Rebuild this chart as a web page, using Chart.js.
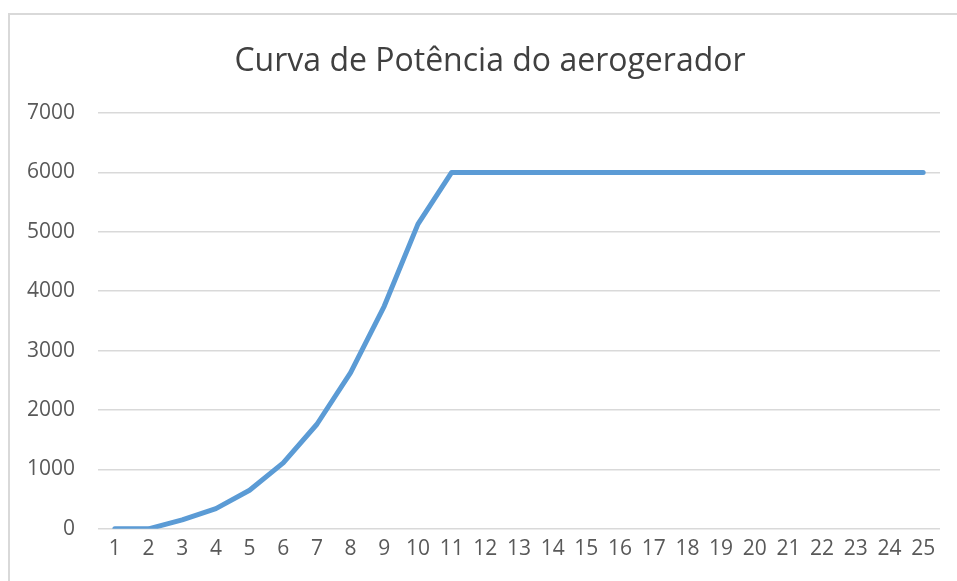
<!DOCTYPE html>
<html>
<head>
<meta charset="utf-8">
<script src="https://cdn.jsdelivr.net/npm/chart.js@4.4.1/dist/chart.umd.min.js"></script>
<style>
  html, body { margin: 0; padding: 0; background: #fff; overflow: hidden; }
  #wrap { position: relative; width: 957px; height: 581px; overflow: hidden; }
  #frame { position: absolute; left: 8px; top: 13px; width: 2000px; height: 2000px; border: 2px solid #d9d9d9; box-sizing: border-box; }
  #chart { position: absolute; left: 0; top: 0; }
</style>
</head>
<body>
<div id="wrap">
  <div id="frame"></div>
  <canvas id="chart" width="957" height="581"></canvas>
</div>
<script>
// Wind speed steps (m/s) and power output
const windSpeeds = ['1', '2', '3', '4', '5', '6', '7', '8', '9', '10', '11', '12', '13',
  '14', '15', '16', '17', '18', '19', '20', '21', '22', '23', '24', '25'];
const power = [0, 0, 150, 340, 650, 1110, 1760, 2630, 3750, 5130, 6000, 6000, 6000,
  6000, 6000, 6000, 6000, 6000, 6000, 6000, 6000, 6000, 6000, 6000, 6000];
const yTicks = [0, 1000, 2000, 3000, 4000, 5000, 6000, 7000];
const chartTitle = 'Curva de Potência do aerogerador';

const fontFamily = '"Open Sans", "Noto Sans", sans-serif';

// title is centred on the outer frame rather than on the plot
const frameTitle = {
  id: 'frameTitle',
  afterDraw(chart) {
    const ctx = chart.ctx;
    ctx.save();
    ctx.font = `32px ${fontFamily}`;
    ctx.fillStyle = '#404040';
    ctx.textAlign = 'center';
    ctx.textBaseline = 'middle';
    ctx.fillText(chartTitle, 490, 62);
    ctx.restore();
  }
};

new Chart(document.getElementById('chart'), {
  type: 'line',
  data: {
    labels: windSpeeds,
    datasets: [{
      label: 'Potência',
      data: power,
      borderColor: '#5B9BD5',
      borderWidth: 5,
      pointRadius: 0,
      tension: 0,
      borderJoinStyle: 'round',
      borderCapStyle: 'round'
    }]
  },
  plugins: [frameTitle],
  options: {
    responsive: false,
    animation: false,
    layout: { padding: { top: 113, right: 17, bottom: 11, left: 0 } },
    plugins: {
      legend: { display: false },
      tooltip: { enabled: false },
      title: { display: false }
    },
    scales: {
      x: {
        offset: true,
        grid: { display: false, drawTicks: false },
        border: { display: false },
        ticks: { color: '#595959', font: { family: fontFamily, size: 21 }, padding: 8, maxRotation: 0, autoSkip: false }
      },
      y: {
        min: 0,
        max: 7000,
        afterFit: (scale) => { scale.width = 98; },
        afterBuildTicks: (scale) => { scale.ticks = yTicks.map(v => ({ value: v })); },
        grid: { color: '#d9d9d9', lineWidth: 1.5, drawTicks: false },
        border: { display: false },
        ticks: {
          color: '#595959',
          font: { family: fontFamily, size: 21 },
          padding: 23,
          callback: (v) => String(v)
        }
      }
    }
  }
});
</script>
</body>
</html>
